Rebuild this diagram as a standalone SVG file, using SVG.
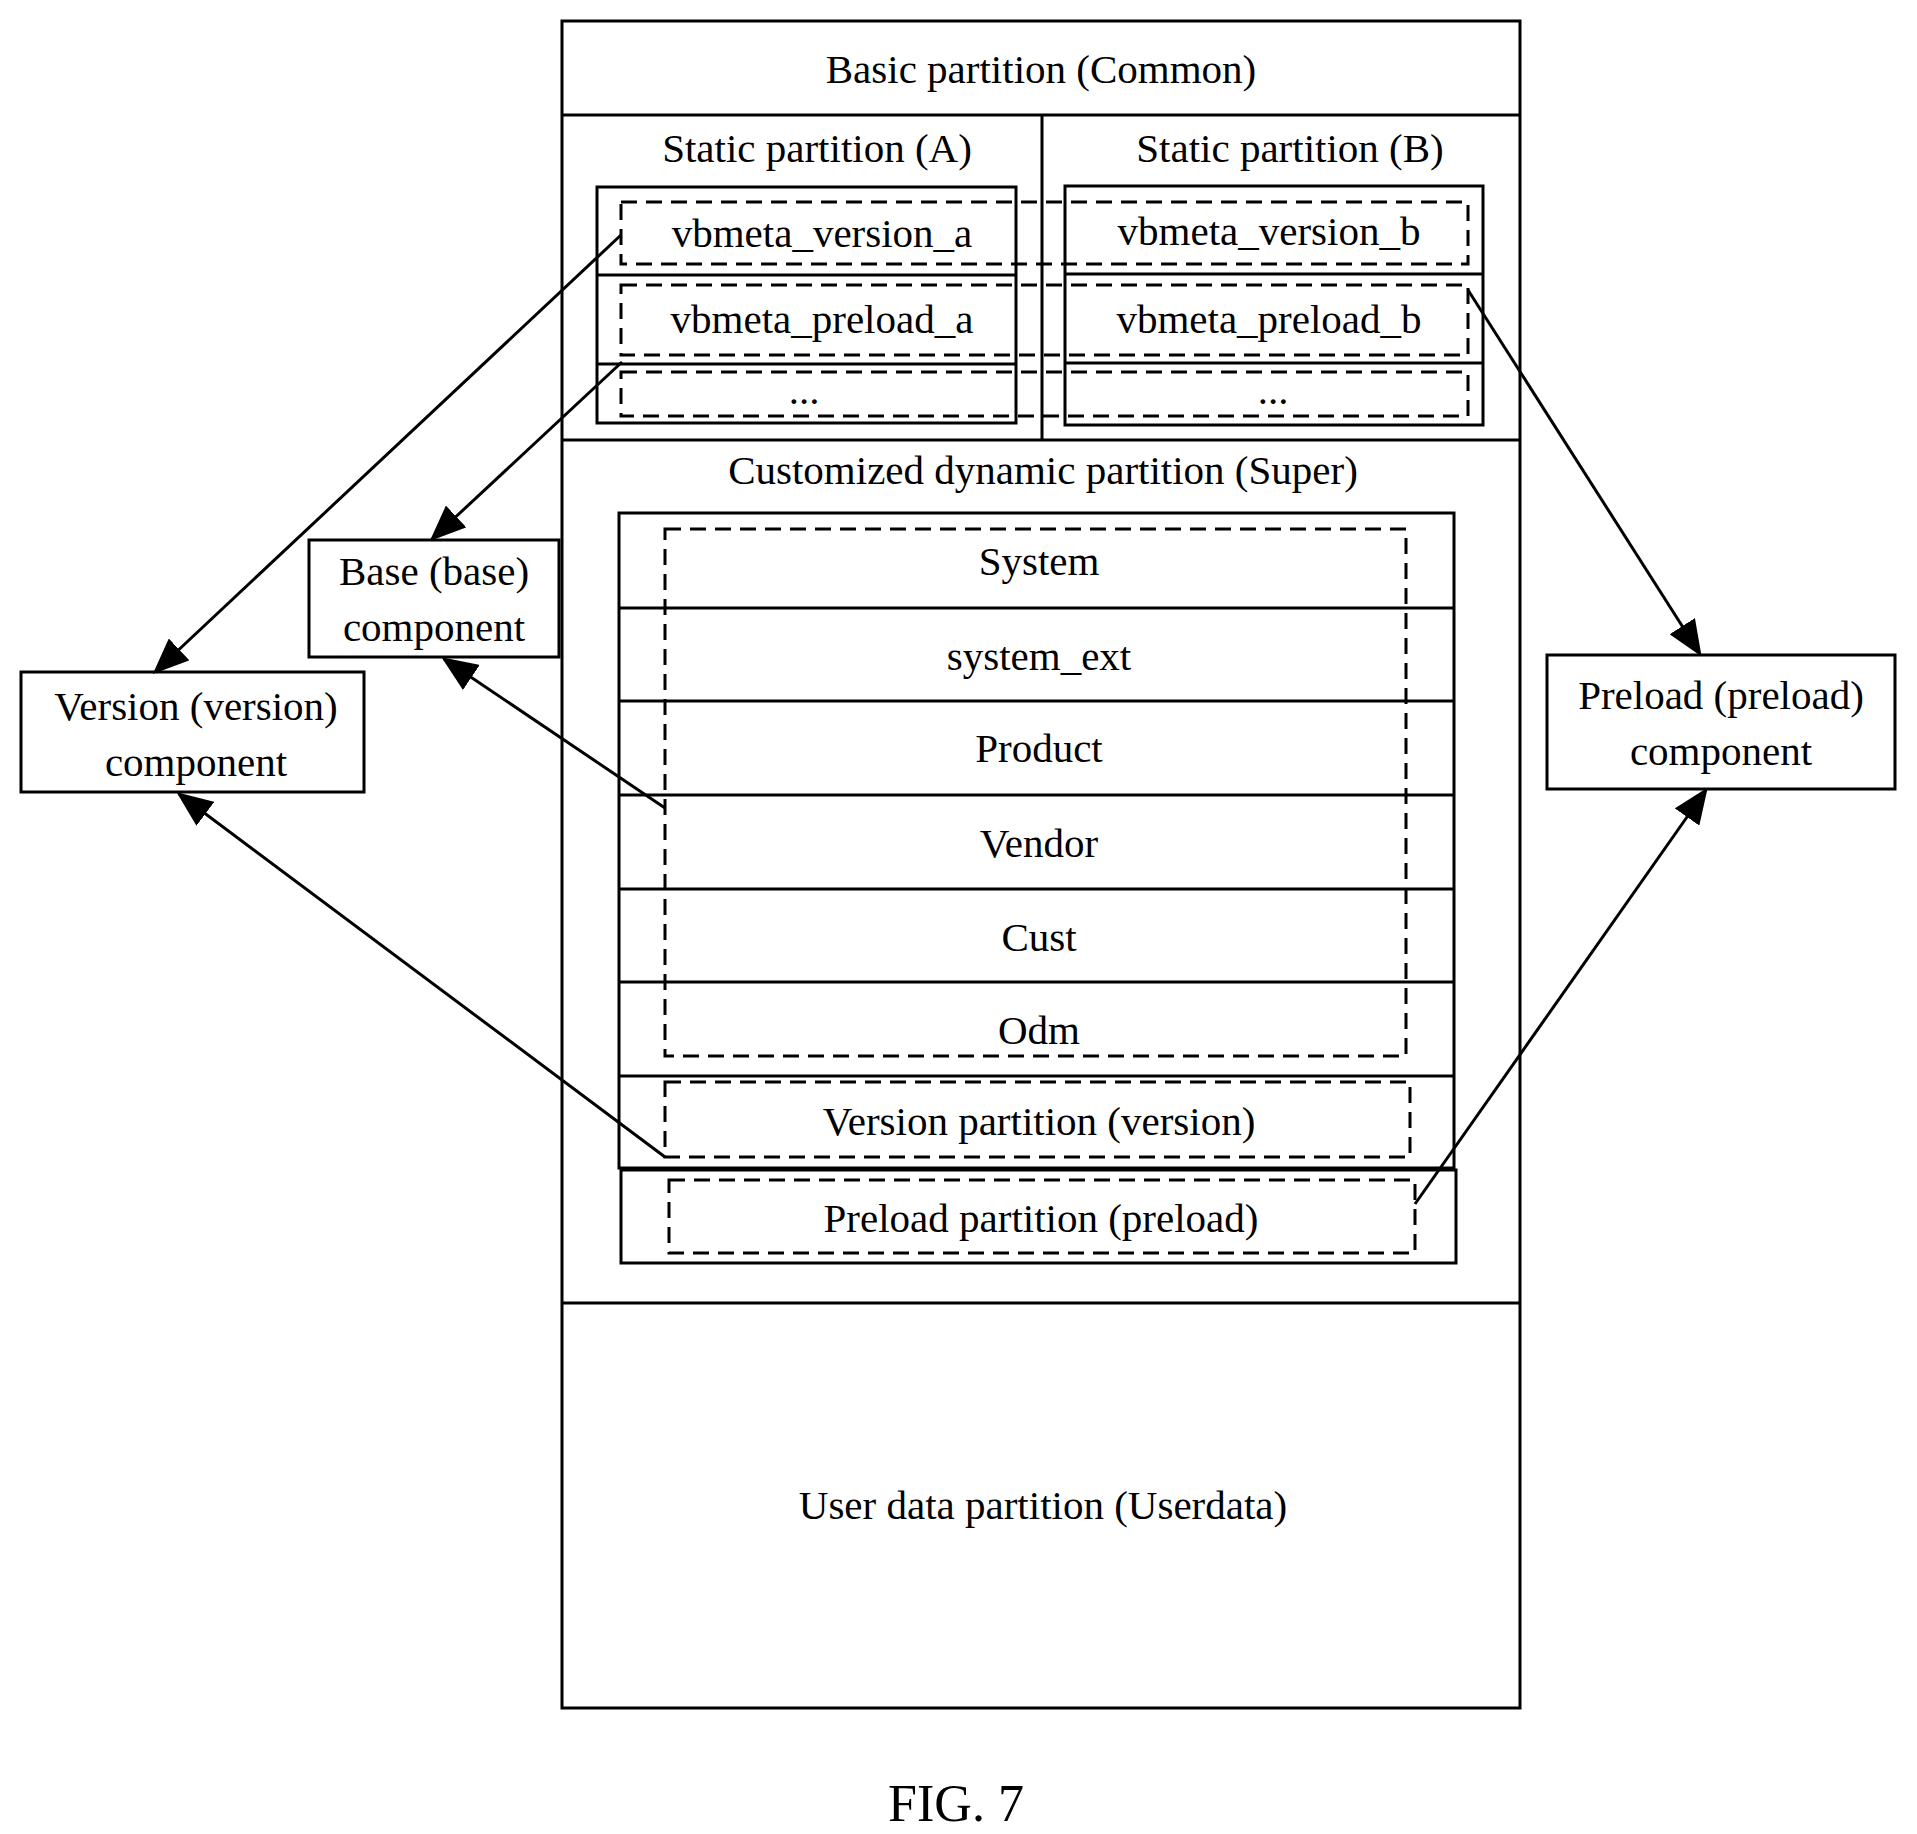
<svg xmlns="http://www.w3.org/2000/svg" width="1917" height="1834" viewBox="0 0 1917 1834">
<style>
.b{fill:none;stroke:#000;stroke-width:3}
.d{fill:none;stroke:#000;stroke-width:3;stroke-dasharray:16 9}
.l{fill:none;stroke:#000;stroke-width:3;marker-end:url(#ah)}
text{font-family:"Liberation Serif","Times New Roman",serif;font-size:41px;text-anchor:middle;fill:#000}
</style>
<defs><marker id="ah" markerWidth="12" markerHeight="10" refX="11" refY="5" orient="auto" markerUnits="strokeWidth"><path d="M0,0 L12,5 L0,10 z" fill="#000"/></marker></defs>
<rect width="1917" height="1834" fill="#fff"/>
<g id="common">
<rect class="b" x="562" y="21" width="958" height="1687"/>
<line class="b" x1="562" y1="115" x2="1520" y2="115"/>
<line class="b" x1="562" y1="440" x2="1520" y2="440"/>
<line class="b" x1="562" y1="1303" x2="1520" y2="1303"/>
<line class="b" x1="1042" y1="115" x2="1042" y2="440"/>
<text x="1041" y="83">Basic partition (Common)</text>
</g>
<g id="static-a">
<text x="817" y="162">Static partition (A)</text>
<rect class="b" x="597" y="187" width="419" height="236"/>
<line class="b" x1="597" y1="275" x2="1016" y2="275"/>
<line class="b" x1="597" y1="364" x2="1016" y2="364"/>
<text x="822" y="247">vbmeta_version_a</text>
<text x="822" y="333">vbmeta_preload_a</text>
<text x="804" y="404">...</text>
</g>
<g id="static-b">
<text x="1290" y="162">Static partition (B)</text>
<rect class="b" x="1065" y="186" width="418" height="239"/>
<line class="b" x1="1065" y1="274" x2="1483" y2="274"/>
<line class="b" x1="1065" y1="363" x2="1483" y2="363"/>
<text x="1269" y="245">vbmeta_version_b</text>
<text x="1269" y="333">vbmeta_preload_b</text>
<text x="1273" y="404">...</text>
</g>
<g id="vbmeta-groups">
<rect class="d" x="621" y="202" width="847" height="62"/>
<rect class="d" x="621" y="285" width="847" height="70"/>
<rect class="d" x="621" y="372" width="847" height="44"/>
</g>
<g id="super">
<text x="1043" y="484">Customized dynamic partition (Super)</text>
<rect class="b" x="619" y="513" width="835" height="655"/>
<line class="b" x1="619" y1="608" x2="1454" y2="608"/>
<line class="b" x1="619" y1="701" x2="1454" y2="701"/>
<line class="b" x1="619" y1="795" x2="1454" y2="795"/>
<line class="b" x1="619" y1="889" x2="1454" y2="889"/>
<line class="b" x1="619" y1="982" x2="1454" y2="982"/>
<line class="b" x1="619" y1="1076" x2="1454" y2="1076"/>
<text x="1039" y="575">System</text>
<text x="1039" y="670">system_ext</text>
<text x="1039" y="762">Product</text>
<text x="1039" y="857">Vendor</text>
<text x="1039" y="951">Cust</text>
<text x="1039" y="1044">Odm</text>
<text x="1039" y="1135">Version partition (version)</text>
<rect class="d" x="665" y="529" width="741" height="527"/>
<rect class="d" x="665" y="1082" width="745" height="75"/>
</g>
<g id="preload-part">
<rect class="b" x="621" y="1170" width="835" height="93"/>
<rect class="d" x="669" y="1180" width="746" height="73"/>
<text x="1041" y="1232">Preload partition (preload)</text>
</g>
<g id="userdata"><text x="1043" y="1519">User data partition (Userdata)</text></g>
<g id="base-comp">
<rect class="b" x="309" y="540" width="250" height="117"/>
<text x="434" y="585">Base (base)</text>
<text x="434" y="641">component</text>
</g>
<g id="version-comp">
<rect class="b" x="21" y="672" width="343" height="120"/>
<text x="196" y="720">Version (version)</text>
<text x="196" y="776">component</text>
</g>
<g id="preload-comp">
<rect class="b" x="1547" y="655" width="348" height="134"/>
<text x="1721" y="709">Preload (preload)</text>
<text x="1721" y="765">component</text>
</g>
<g id="connectors">
<line class="l" x1="621" y1="235" x2="155" y2="672"/>
<line class="l" x1="622" y1="362" x2="432" y2="539"/>
<line class="l" x1="665" y1="808" x2="444" y2="659"/>
<line class="l" x1="665" y1="1157" x2="179" y2="794"/>
<line class="l" x1="1468" y1="290" x2="1700" y2="654"/>
<line class="l" x1="1415" y1="1204" x2="1706" y2="790"/>
</g>
<text x="956" y="1821" style="font-size:52px">FIG. 7</text>
</svg>
